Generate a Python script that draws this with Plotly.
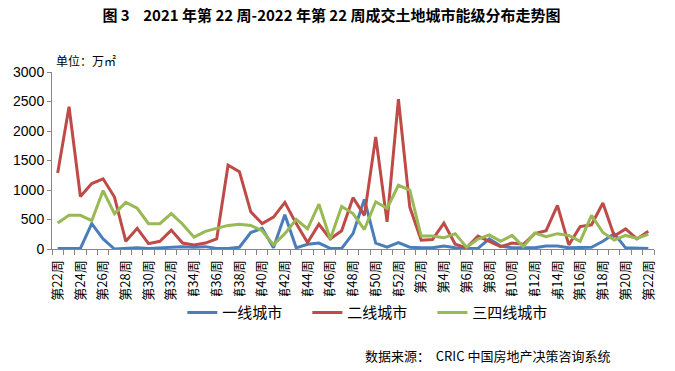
import plotly.graph_objects as go

weeks = [f"第{w}周" for w in range(22, 53)] + [f"第{w}周" for w in range(1, 23)]

tier1 = [10, 10, 10, 430, 170, 0, 10, 20, 10, 20, 20, 40, 30, 40, 10, 10, 30, 280, 350, 20,
         580, 20, 80, 100, 10, 10, 260, 840, 100, 30, 110, 30, 20, 20, 50, 20, 10, 10, 170, 50,
         20, 20, 20, 50, 50, 20, 20, 30, 130, 260, 20, 10, 10]
tier2 = [1290, 2410, 890, 1110, 1190, 880, 130, 350, 90, 130, 320, 100, 70, 100, 170, 1420, 1310, 630, 430, 540,
         790, 430, 110, 420, 170, 310, 870, 570, 1900, 460, 2540, 710, 150, 160, 440, 80, 20, 220, 130, 40,
         100, 80, 260, 310, 740, 70, 380, 410, 780, 220, 340, 170, 300]
tier34 = [440, 570, 570, 480, 990, 600, 790, 690, 430, 430, 600, 420, 200, 300, 350, 400, 420, 400, 310, 70,
          260, 500, 340, 760, 170, 720, 600, 330, 800, 690, 1080, 1000, 220, 220, 190, 260, 30, 170, 240, 130,
          230, 40, 270, 210, 260, 230, 130, 570, 280, 150, 230, 180, 250]

series_names = ["一线城市", "二线城市", "三四线城市"]
colors = ["#4A7EBB", "#BE4B48", "#98B954"]

title_text = "图 3    2021 年第 22 周-2022 年第 22 周成交土地城市能级分布走势图"
unit_text = "单位：万㎡"
source_text = "数据来源：  CRIC 中国房地产决策咨询系统"

FONT = "Liberation Sans, Noto Sans CJK SC, sans-serif"
CJK = "Noto Sans CJK SC, sans-serif"
AXIS = "#868686"

xs = list(range(len(weeks)))

fig = go.Figure()
for name, vals, c in zip(series_names, [tier1, tier2, tier34], colors):
    fig.add_trace(go.Scatter(x=xs, y=vals, name=name, mode="lines",
                             line=dict(color=c, width=3)))

fig.update_layout(
    width=675, height=371, autosize=False,
    margin=dict(l=52, r=21, t=72, b=122),
    paper_bgcolor="white", plot_bgcolor="white",
    font=dict(family=FONT, size=13, color="#000000"),
    showlegend=True,
    legend=dict(orientation="h", x=0.528, xanchor="center", y=-0.36, yanchor="middle",
                font=dict(family=CJK, size=15, color="#000"),
                entrywidth=80, entrywidthmode="pixels", itemwidth=30),
    title=dict(text=f"<b>{title_text}</b>", x=0.491, xanchor="center", y=0.958, yanchor="middle",
               font=dict(family=CJK, size=15, color="#000")),
)

fig.update_xaxes(
    range=[-0.5, len(weeks) - 0.5],
    tickmode="array", tickvals=xs[::2], ticktext=weeks[::2],
    tickangle=-90, ticks="", showgrid=False, zeroline=False,
    showline=True, linecolor=AXIS, linewidth=1, ticklabelstandoff=5,
    tickfont=dict(family=CJK, size=13, color="#000"),
    minor=dict(ticks="outside", tick0=-0.5, dtick=1, ticklen=5, tickcolor=AXIS, tickwidth=1, showgrid=False),
)
fig.update_yaxes(
    range=[0, 3000], dtick=500, tick0=0,
    ticks="outside", ticklen=4, tickcolor=AXIS,
    showgrid=False, zeroline=False, showline=True, linecolor=AXIS, linewidth=1,
    tickfont=dict(family=FONT, size=14, color="#000"),
)

fig.add_annotation(text=unit_text, xref="paper", yref="paper", x=0.003, y=1.067,
                   xanchor="left", yanchor="middle", showarrow=False,
                   font=dict(family=CJK, size=12, color="#000"))
fig.add_annotation(text=source_text, xref="paper", x=0.930, yref="paper", y=-0.60,
                   xanchor="right", yanchor="middle", showarrow=False,
                   font=dict(family=CJK, size=13, color="#000"))

fig.write_html("out.html", config={"displayModeBar": False},
               post_script="document.body.style.margin='0';")
